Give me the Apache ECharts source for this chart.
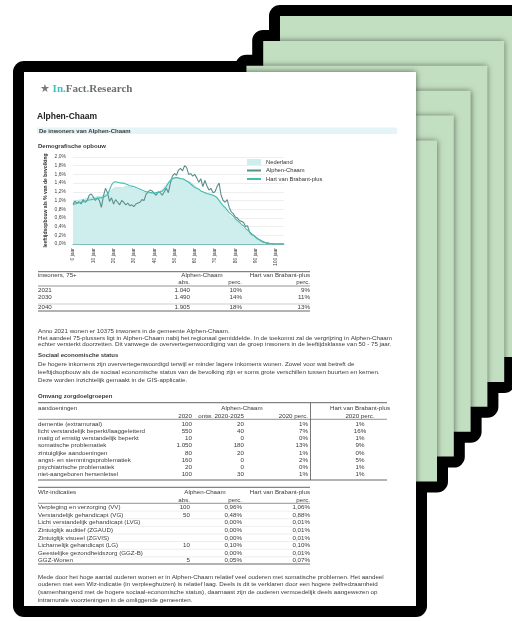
<!DOCTYPE html>
<html>
<head>
<meta charset="utf-8">
<title>Alphen-Chaam</title>
<script src="https://cdn.jsdelivr.net/npm/echarts@6/dist/echarts.min.js"></script>
<style>
  html, body { margin: 0; padding: 0; background: #fff; }
  #chart { width: 512px; height: 621px; }
</style>
</head>
<body>
<div id="chart"></div>
<script>
// leeftijd 0 t/m 104 jaar
const ages = Array.from({ length: 105 }, (_, i) => String(i));

// % van de bevolking per leeftijdsjaar
const nederland = [
  0.98, 1.00, 1.00, 1.01, 1.02, 1.03, 1.04, 1.05, 1.06, 1.07,
  1.08, 1.08, 1.09, 1.10, 1.10, 1.12, 1.14, 1.16, 1.20, 1.24,
  1.28, 1.30, 1.30, 1.30, 1.29, 1.30, 1.32, 1.32, 1.31, 1.30,
  1.28, 1.26, 1.24, 1.22, 1.20, 1.18, 1.17, 1.16, 1.16, 1.17,
  1.18, 1.18, 1.20, 1.22, 1.24, 1.30, 1.36, 1.42, 1.48, 1.50,
  1.52, 1.52, 1.51, 1.50, 1.50, 1.48, 1.46, 1.44, 1.42, 1.38,
  1.34, 1.30, 1.26, 1.22, 1.20, 1.18, 1.16, 1.14, 1.12, 1.12,
  1.10, 1.08, 1.02, 0.92, 0.86, 0.80, 0.72, 0.66, 0.62, 0.58,
  0.54, 0.50, 0.45, 0.41, 0.36, 0.32, 0.28, 0.24, 0.20, 0.16,
  0.13, 0.10, 0.07, 0.05, 0.04, 0.03, 0.02, 0.01, 0.01, 0.00,
  0, 0, 0, 0, 0
];
const alphenChaam = [
  0.92, 0.98, 0.94, 0.97, 0.92, 1.02, 0.96, 1.00, 1.12, 1.15,
  1.08, 1.00, 1.06, 1.00, 0.84, 1.10, 1.28, 1.18, 0.98, 1.06,
  0.92, 1.02, 0.96, 0.90, 1.00, 0.96, 0.90, 0.94, 0.88, 0.90,
  0.86, 0.92, 0.94, 0.96, 1.02, 1.00, 1.14, 1.20, 1.24, 1.22,
  1.16, 1.12, 1.20, 1.18, 1.12, 1.20, 1.28, 1.18, 1.40, 1.56,
  1.62, 1.58, 1.70, 1.74, 1.68, 1.80, 1.76, 1.60, 1.62, 1.56,
  1.60, 1.52, 1.42, 1.50, 1.32, 1.46, 1.34, 1.24, 1.28, 1.18,
  1.20, 1.32, 1.40, 1.12, 1.00, 0.96, 1.02, 0.84, 0.74, 0.70,
  0.62, 0.60, 0.54, 0.52, 0.50, 0.40, 0.42, 0.28, 0.22, 0.20,
  0.16, 0.12, 0.10, 0.07, 0.04, 0.03, 0.02, 0.01, 0.01, 0.00,
  0, 0, 0, 0, 0
];
const hartVanBrabant = [
  0.90, 0.92, 0.93, 0.95, 0.96, 0.97, 0.98, 1.00, 1.01, 1.02,
  1.03, 1.04, 1.05, 1.06, 1.06, 1.08, 1.10, 1.14, 1.24, 1.36,
  1.42, 1.43, 1.42, 1.41, 1.40, 1.40, 1.38, 1.36, 1.34, 1.33,
  1.32, 1.30, 1.28, 1.26, 1.24, 1.22, 1.20, 1.20, 1.18, 1.18,
  1.17, 1.18, 1.18, 1.20, 1.22, 1.26, 1.32, 1.40, 1.46, 1.50,
  1.52, 1.53, 1.52, 1.50, 1.50, 1.48, 1.45, 1.42, 1.38, 1.34,
  1.30, 1.28, 1.26, 1.22, 1.20, 1.18, 1.16, 1.15, 1.14, 1.12,
  1.10, 1.06, 1.00, 0.94, 0.88, 0.84, 0.78, 0.72, 0.68, 0.64,
  0.58, 0.54, 0.50, 0.45, 0.42, 0.36, 0.32, 0.28, 0.24, 0.20,
  0.16, 0.12, 0.09, 0.06, 0.05, 0.03, 0.02, 0.01, 0.01, 0.00,
  0, 0, 0, 0, 0
];

// tabel inwoners 75+
const t1Jaren = ['2021', '2030', '2040'];
const t1Abs = ['1.040', '1.490', '1.905'];
const t1Perc = ['10%', '14%', '18%'];
const t1Hart = ['9%', '11%', '13%'];

// tabel zorgdoelgroepen
const zorgLabels = [
  'dementie (extramuraal)', 'licht verstandelijk beperkt/laaggeletterd',
  'matig of ernstig verstandelijk beperkt', 'somatische problematiek',
  'zintuiglijke aandoeningen', 'angst- en stemmingsproblematiek',
  'psychiatrische problematiek', 'niet-aangeboren hersenletsel'
];
const zorg2020 = ['100', '550', '10', '1.050', '80', '160', '20', '100'];
const zorgOntw = ['20', '40', '0', '180', '20', '0', '0', '30'];
const zorgPerc = ['1%', '7%', '0%', '13%', '1%', '2%', '0%', '1%'];
const zorgHart = ['1%', '16%', '1%', '9%', '0%', '5%', '1%', '1%'];

// tabel Wlz-indicaties
const wlzLabels = [
  'Verpleging en verzorging (VV)', 'Verstandelijk gehandicapt (VG)',
  'Licht verstandelijk gehandicapt (LVG)', 'Zintuiglijk auditief (ZGAUD)',
  'Zintuiglijk visueel (ZGVIS)', 'Lichamelijk gehandicapt (LG)',
  'Geestelijke gezondheidszorg (GGZ-B)', 'GGZ-Wonen'
];
const wlzAbs = ['100', '50', '', '', '', '10', '', '5'];
const wlzPerc = ['0,96%', '0,48%', '0,00%', '0,00%', '0,00%', '0,10%', '0,00%', '0,05%'];
const wlzHart = ['1,06%', '0,88%', '0,01%', '0,01%', '0,01%', '0,10%', '0,01%', '0,07%'];

const FONT = 'Liberation Sans';
const TXT = '#3a3a3a';
const FS = 6.2;

function txt(x, y, s, o) {
  o = o || {};
  return {
    type: 'text', z: 10, x: x, y: y, silent: true,
    style: {
      text: s, fill: o.color || TXT, fontSize: o.size || FS,
      fontFamily: o.family || FONT, fontWeight: o.bold ? 'bold' : 'normal',
      textAlign: o.align || 'left', textVerticalAlign: 'middle',
      align: o.align || 'left', verticalAlign: 'middle'
    }
  };
}
function line(x1, y1, x2, y2, c, w) {
  return {
    type: 'line', z: 10, silent: true,
    shape: { x1: x1, y1: y1, x2: x2, y2: y2 },
    style: { stroke: c || '#555', lineWidth: w || 0.8 }
  };
}

const g = [];

// stapel pagina's: zwarte rand, groene vellen, wit voorblad
const pages = [];
for (let i = 0; i < 6; i++) {
  pages.push({ x: 280 - 16.8 * i, y: 16 + 24.9 * i, w: 241, h: 341 });
}
const front = { x: 24, y: 72, w: 392, h: 534 };
pages.concat([front]).forEach(p => {
  g.push({
    type: 'rect', z: -20, silent: true,
    shape: { x: p.x - 11, y: p.y - 11, width: p.w + 22, height: p.h + 22, r: 11 },
    style: { fill: '#000' }
  });
});
pages.forEach((p, i) => {
  g.push({
    type: 'rect', z: -19 + i, silent: true,
    shape: { x: p.x, y: p.y, width: p.w, height: p.h },
    style: { fill: '#c3dfc1', shadowBlur: 6, shadowColor: 'rgba(0,0,0,0.55)' }
  });
});
g.push({
  type: 'rect', z: -10, silent: true,
  shape: { x: front.x, y: front.y, width: front.w, height: front.h },
  style: { fill: '#fff', shadowBlur: 6, shadowColor: 'rgba(0,0,0,0.55)' }
});

// logo
g.push({
  type: 'text', z: 10, x: 40, y: 89, silent: true,
  style: {
    text: '{s|\u2605}{g| }{t|In}{t|.}{g|Fact}{t|.}{g|Research}',
    textVerticalAlign: 'middle', verticalAlign: 'middle',
    rich: {
      s: { fill: '#7a7a7a', fontSize: 11, fontFamily: 'DejaVu Sans' },
      t: { fill: '#3cc3c0', fontSize: 11, fontWeight: 'bold', fontFamily: 'Liberation Serif' },
      g: { fill: '#6f6f6f', fontSize: 11, fontWeight: 'bold', fontFamily: 'Liberation Serif' }
    }
  }
});

g.push(txt(37, 117, 'Alphen-Chaam', { size: 8.5, bold: true, color: '#222' }));
g.push({
  type: 'rect', z: 5, silent: true,
  shape: { x: 37, y: 127.5, width: 360, height: 6.5 },
  style: { fill: '#e5f4f7' }
});
g.push(txt(39, 131, 'De inwoners van Alphen-Chaam', { bold: true, size: 6 }));
g.push(txt(38, 146, 'Demografische opbouw', { bold: true, size: 6 }));

// tabel 1
g.push(line(38, 271.7, 310, 271.7, '#555', 0.9));
g.push(txt(38, 275.5, 'inwoners, 75+'));
g.push(txt(202, 275.5, 'Alphen-Chaam', { align: 'center' }));
g.push(txt(310, 275.5, 'Hart van Brabant-plus', { align: 'right' }));
g.push(txt(190, 282.5, 'abs.', { align: 'right' }));
g.push(txt(242, 282.5, 'perc.', { align: 'right' }));
g.push(txt(310, 282.5, 'perc.', { align: 'right' }));
g.push(line(38, 286, 310, 286, '#666', 0.7));
const t1Y = [290, 297.3, 307.3];
t1Jaren.forEach((j, i) => {
  g.push(txt(38, t1Y[i], j));
  g.push(txt(190, t1Y[i], t1Abs[i], { align: 'right' }));
  g.push(txt(242, t1Y[i], t1Perc[i], { align: 'right' }));
  g.push(txt(310, t1Y[i], t1Hart[i], { align: 'right' }));
});
g.push(line(38, 304, 310, 304, '#999', 0.5));
g.push(line(38, 311, 310, 311, '#555', 0.9));

// tekst
const para1 = [
  'Anno 2021 wonen er 10375 inwoners in de gemeente Alphen-Chaam.',
  'Het aandeel 75-plussers ligt in Alphen-Chaam nabij het regionaal gemiddelde. In de toekomst zal de vergrijzing in Alphen-Chaam',
  'echter versterkt doorzetten. Dit vanwege de oververtegenwoordiging van de groep inwoners in de leeftijdsklasse van 50 - 75 jaar.'
];
[331.5, 338.2, 344.4].forEach((y, i) => g.push(txt(38, y, para1[i])));
g.push(txt(38, 355, 'Sociaal economische status', { bold: true, size: 6 }));
const para2 = [
  'De hogere inkomens zijn oververtegenwoordigd terwijl er minder lagere inkomens wonen. Zowel voor wat betreft de',
  'leeftijdsopbouw als de sociaal economische status van de bevolking zijn er soms grote verschillen tussen buurten en kernen.',
  'Deze worden inzichtelijk gemaakt in de GIS-applicatie.'
];
[364, 372.3, 380].forEach((y, i) => g.push(txt(38, y, para2[i])));
g.push(txt(38, 396, 'Omvang zorgdoelgroepen', { bold: true, size: 6 }));

// tabel 2
g.push(line(38, 402.7, 387, 402.7, '#555', 0.9));
g.push(line(310.5, 402.7, 310.5, 480, '#555', 0.8));
g.push(txt(38, 408.3, 'aandoeningen'));
g.push(txt(242, 408.3, 'Alphen-Chaam', { align: 'center' }));
g.push(txt(360, 408.3, 'Hart van Brabant-plus', { align: 'center' }));
g.push(txt(192, 416, '2020', { align: 'right' }));
g.push(txt(244, 416, 'ontw. 2020-2025', { align: 'right' }));
g.push(txt(308, 416, '2020 perc.', { align: 'right' }));
g.push(txt(360, 416, '2020 perc.', { align: 'center' }));
g.push(line(38, 419.3, 387, 419.3, '#666', 0.7));
zorgLabels.forEach((lab, i) => {
  const y = 424 + i * 7.2;
  g.push(txt(38, y, lab));
  g.push(txt(192, y, zorg2020[i], { align: 'right' }));
  g.push(txt(244, y, zorgOntw[i], { align: 'right' }));
  g.push(txt(308, y, zorgPerc[i], { align: 'right' }));
  g.push(txt(360, y, zorgHart[i], { align: 'center' }));
});
g.push(line(38, 480, 387, 480, '#555', 0.9));

// tabel 3
g.push(line(38, 487.3, 310, 487.3, '#555', 0.9));
g.push(txt(38, 492.7, 'Wlz-indicaties'));
g.push(txt(205, 492.7, 'Alphen-Chaam', { align: 'center' }));
g.push(txt(310, 492.7, 'Hart van Brabant-plus', { align: 'right' }));
g.push(txt(190, 500.5, 'abs.', { align: 'right' }));
g.push(txt(242, 500.5, 'perc.', { align: 'right' }));
g.push(txt(310, 500.5, 'perc.', { align: 'right' }));
g.push(line(38, 503.3, 310, 503.3, '#666', 0.7));
wlzLabels.forEach((lab, i) => {
  const y = 507.3 + i * 7.63;
  g.push(txt(38, y, lab));
  g.push(txt(190, y, wlzAbs[i], { align: 'right' }));
  g.push(txt(242, y, wlzPerc[i], { align: 'right' }));
  g.push(txt(310, y, wlzHart[i], { align: 'right' }));
  if (i < wlzLabels.length - 1) g.push(line(38, y + 3.8, 310, y + 3.8, '#ddd', 0.5));
});
g.push(line(38, 564, 310, 564, '#555', 0.9));

const para3 = [
  'Mede door het hoge aantal ouderen wonen er in Alphen-Chaam relatief veel ouderen met somatische problemen. Het aandeel',
  'ouderen met een Wlz-indicatie (in verpleeghuizen) is relatief laag. Deels is dit te verklaren door een hogere zelfredzaamheid',
  '(samenhangend met de hogere sociaal-economische status), daarnaast zijn de ouderen vermoedelijk deels aangewezen op',
  'intramurale voorzieningen in de omliggende gemeenten.'
];
[577, 584.7, 592.4, 600].forEach((y, i) => g.push(txt(38, y, para3[i])));

const chart = echarts.init(document.getElementById('chart'));
chart.setOption({
  animation: false,
  graphic: { elements: g },
  grid: { left: 73, top: 157, width: 211, height: 87 },
  legend: {
    orient: 'vertical', left: 241, top: 154,
    itemWidth: 14, itemHeight: 6, itemGap: 2.5,
    textStyle: { fontSize: 5.8, color: '#333', fontFamily: FONT },
    data: [
      { name: 'Nederland', icon: 'rect' },
      { name: 'Alphen-Chaam', itemStyle: { opacity: 0 } },
      { name: 'Hart van Brabant-plus', itemStyle: { opacity: 0 } }
    ]
  },
  xAxis: {
    type: 'category', data: ages, boundaryGap: false,
    axisLine: { lineStyle: { color: '#7fbcb8' } },
    axisTick: { show: false },
    axisLabel: {
      interval: 9, rotate: 90, fontSize: 5, color: '#444', fontFamily: FONT, margin: 4,
      formatter: v => v + ' jaar'
    }
  },
  yAxis: {
    type: 'value', min: 0, max: 2.0, interval: 0.2,
    name: 'leeftijdsopbouw als % van de bevolking',
    nameLocation: 'middle', nameGap: 25,
    nameTextStyle: { fontSize: 5, fontWeight: 'bold', color: '#333', fontFamily: FONT },
    axisLine: { show: false }, axisTick: { show: false },
    axisLabel: {
      fontSize: 5, color: '#444', fontFamily: FONT, margin: 7,
      formatter: v => v.toFixed(1).replace('.', ',') + '%'
    },
    splitLine: { lineStyle: { color: '#e2e2e2', width: 0.6 } }
  },
  series: [
    {
      name: 'Nederland', type: 'line', data: nederland, symbol: 'none',
      itemStyle: { color: '#cdeeed' },
      lineStyle: { color: '#a8dedc', width: 0.6 },
      areaStyle: { color: '#cdeeed', opacity: 1 }
    },
    {
      name: 'Alphen-Chaam', type: 'line', data: alphenChaam, symbol: 'none',
      itemStyle: { color: '#5b8f8c' },
      lineStyle: { color: '#5b8f8c', width: 1.1 }
    },
    {
      name: 'Hart van Brabant-plus', type: 'line', data: hartVanBrabant, symbol: 'none',
      itemStyle: { color: '#43bdb3' },
      lineStyle: { color: '#43bdb3', width: 1.1 }
    }
  ]
});
</script>
</body>
</html>
